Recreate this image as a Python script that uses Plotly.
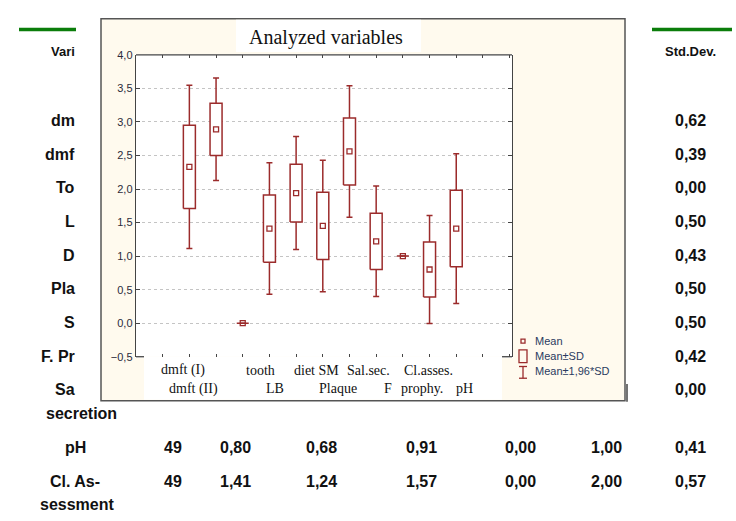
import plotly.graph_objects as go

W, H = 736, 521

# ---------------- data ----------------
categories = ["dmft (I)", "dmft (II)", "tooth", "LB", "diet SM", "Plaque",
              "Sal.sec.", "F", "Cl.asses.", "prophy.", "pH"]
means = [2.33, 2.89, 0.00, 1.41, 1.94, 1.45, 2.56, 1.22, 1.00, 0.80, 1.41]
std_devs = [0.62, 0.39, 0.00, 0.50, 0.43, 0.50, 0.50, 0.42, 0.00, 0.41, 0.57]

# background table (partly hidden by the chart)
table_row_fragments = ["dm", "dmf", "To", "L", "D", "Pla", "S", "F. Pr", "Sa"]
table_std_col = [0.62, 0.39, 0.00, 0.50, 0.43, 0.50, 0.50, 0.42, 0.00]
ph_row = [49, 0.80, 0.68, 0.91, 0.00, 1.00, 0.41]
cl_row = [49, 1.41, 1.24, 1.57, 0.00, 2.00, 0.57]

y_ticks = [-0.5, 0.0, 0.5, 1.0, 1.5, 2.0, 2.5, 3.0, 3.5, 4.0]

# ---------------- style ----------------
RED = "#9B2B2B"
CREAM = "#FFFAEE"
label_row = [0, 1, 0, 1, 0, 1, 0, 1, 0, 1, 1]
label_shift = [-6, -23, 18, 6, 20, 15, 19, 12, 26, -8, 8]
BOX_HALF = 0.225


def px(x):
    return x / W


def py(y):
    return 1 - y / H


def fmt(v):
    return f"{v:.2f}".replace(".", ",")


fig = go.Figure()

# whiskers (mean ± 1.96*SD)
fig.add_trace(go.Scatter(
    x=list(range(len(means))), y=means, mode="markers",
    marker=dict(size=1, color="rgba(0,0,0,0)"),
    error_y=dict(type="data", array=[1.96 * s for s in std_devs], visible=True,
                 color=RED, thickness=1.5, width=3),
    showlegend=False, hoverinfo="skip"))

# boxes (mean ± SD)
bx, by = [], []
for i, (m, s) in enumerate(zip(means, std_devs)):
    bx += [i - BOX_HALF, i + BOX_HALF, i + BOX_HALF, i - BOX_HALF, i - BOX_HALF, None]
    by += [m - s, m - s, m + s, m + s, m - s, None]
fig.add_trace(go.Scatter(x=bx, y=by, mode="lines", fill="toself", fillcolor="white",
                         line=dict(color=RED, width=1.5), showlegend=False,
                         hoverinfo="skip"))

# means
fig.add_trace(go.Scatter(x=list(range(len(means))), y=means, mode="markers",
                         marker=dict(symbol="square-open", size=5, color=RED,
                                     line=dict(width=1.3, color=RED)),
                         showlegend=False))

shapes = []
# green rules of the table
shapes.append(dict(type="line", xref="paper", yref="paper", x0=px(19), x1=px(76),
                   y0=py(24), y1=py(24), line=dict(color="#0b7d0b", width=3.5)))
shapes.append(dict(type="line", xref="paper", yref="paper", x0=px(652), x1=px(732),
                   y0=py(24), y1=py(24), line=dict(color="#0b7d0b", width=3.5)))
# chart panel
shapes.append(dict(type="rect", xref="paper", yref="paper", layer="below",
                   x0=px(101), x1=px(625), y0=py(404), y1=py(13),
                   fillcolor=CREAM, line=dict(color="#555555", width=1.5)))
shapes.append(dict(type="line", xref="paper", yref="paper",
                   x0=px(627), x1=px(627), y0=py(387), y1=py(405),
                   line=dict(color="#444444", width=1.5)))
# white areas
shapes.append(dict(type="rect", xref="paper", yref="paper", layer="below",
                   x0=px(236), x1=px(421), y0=py(47), y1=py(14),
                   fillcolor="white", line=dict(width=0)))
shapes.append(dict(type="rect", xref="paper", yref="paper", layer="below",
                   x0=px(136), x1=px(512), y0=py(359), y1=py(50),
                   fillcolor="white", line=dict(width=0)))
shapes.append(dict(type="rect", xref="paper", yref="paper", layer="below",
                   x0=px(144), x1=px(502), y0=py(403), y1=py(359),
                   fillcolor="white", line=dict(width=0)))
# plot frame top and the bottom corner stubs
shapes.append(dict(type="line", xref="x domain", yref="y domain", x0=0, x1=1, y0=1, y1=1,
                   line=dict(color="#444444", width=1.3)))
shapes.append(dict(type="line", xref="x domain", yref="y domain", x0=0, x1=8 / 376,
                   y0=0, y1=0, line=dict(color="#444444", width=1.3)))
shapes.append(dict(type="line", xref="x domain", yref="y domain", x0=366 / 376, x1=1,
                   y0=0, y1=0, line=dict(color="#444444", width=1.3)))
# legend symbols
shapes.append(dict(type="rect", xref="paper", yref="paper", x0=px(521), x1=px(525),
                   y0=py(345), y1=py(341), line=dict(color=RED, width=1.3)))
shapes.append(dict(type="rect", xref="paper", yref="paper", x0=px(519), x1=px(527),
                   y0=py(365), y1=py(352), line=dict(color=RED, width=1.3)))
shapes.append(dict(type="line", xref="paper", yref="paper", x0=px(523), x1=px(523),
                   y0=py(381), y1=py(369), line=dict(color=RED, width=1.3)))
for yy in (369, 381):
    shapes.append(dict(type="line", xref="paper", yref="paper", x0=px(519), x1=px(527),
                       y0=py(yy), y1=py(yy), line=dict(color=RED, width=1.3)))

ann = []
TAB_FONT = dict(family="Liberation Sans, Arial", size=16, color="#111111")
HDR_FONT = dict(family="Liberation Sans, Arial", size=13, color="#111111")
# table header
ann.append(dict(text="<b>Vari</b>", x=px(77), y=py(47), xanchor="right", yanchor="middle",
                font=HDR_FONT))
ann.append(dict(text="<b>Std.Dev.</b>", x=px(690), y=py(47), xanchor="center",
                yanchor="middle", font=HDR_FONT))
# table rows behind chart
for i, (lab, sd) in enumerate(zip(table_row_fragments, table_std_col)):
    yy = 117 + i * 34.5
    ann.append(dict(text=f"<b>{lab}</b>", x=px(77), y=py(yy), xanchor="right",
                    yanchor="middle", font=TAB_FONT))
    ann.append(dict(text=f"<b>{fmt(sd)}</b>", x=px(690), y=py(yy), xanchor="center",
                    yanchor="middle", font=TAB_FONT))
ann.append(dict(text="<b>secretion</b>", x=px(81), y=py(417), xanchor="center",
                yanchor="middle", font=TAB_FONT))
col_x = [173, 235, 321, 421, 520, 606, 690]
for lab, row, yy in (("pH", ph_row, 452), ("Cl. As-", cl_row, 487)):
    ann.append(dict(text=f"<b>{lab}</b>", x=px(75), y=py(yy), xanchor="center",
                    yanchor="middle", font=TAB_FONT))
    for cx, v in zip(col_x, row):
        t = str(v) if isinstance(v, int) else fmt(v)
        ann.append(dict(text=f"<b>{t}</b>", x=px(cx), y=py(yy), xanchor="center",
                        yanchor="middle", font=TAB_FONT))
ann.append(dict(text="<b>sessment</b>", x=px(77), y=py(510), xanchor="center",
                yanchor="middle", font=TAB_FONT))

# chart title
ann.append(dict(text="Analyzed variables", x=px(326), y=py(32), xanchor="center",
                yanchor="middle",
                font=dict(family="Liberation Serif, Times New Roman", size=20,
                          color="#111111")))
# category labels
for i, (c, r, sh) in enumerate(zip(categories, label_row, label_shift)):
    ann.append(dict(text=c, xref="x", yref="paper", x=i, y=py(373 if r == 0 else 392),
                    xshift=sh, xanchor="center", yanchor="middle", showarrow=False,
                    font=dict(family="Liberation Serif, Times New Roman", size=14,
                              color="#111111")))
# legend text
LEG_FONT = dict(family="Liberation Sans, Arial", size=11, color="#2a3a60")
for t, yy in (("Mean", 343), ("Mean±SD", 358), ("Mean±1,96*SD", 374)):
    ann.append(dict(text=t, x=px(533), y=py(yy), xanchor="left", yanchor="middle",
                    font=LEG_FONT))

for a in ann:
    a.setdefault("xref", "paper")
    a.setdefault("yref", "paper")
    a["showarrow"] = False

fig.update_layout(
    width=W, height=H, autosize=False,
    margin=dict(l=0, r=0, t=0, b=0, pad=0),
    paper_bgcolor="white", plot_bgcolor="rgba(0,0,0,0)",
    separators=",.",
    showlegend=False,
    shapes=shapes, annotations=ann,
    xaxis=dict(domain=[px(136), px(512)], range=[-2, 12.09], tickmode="linear",
               tick0=0, dtick=1, showticklabels=False, ticks="inside", ticklen=3,
               tickcolor="#444444", mirror="allticks", showline=True,
               linecolor="white", linewidth=1, showgrid=False, zeroline=False,
               fixedrange=True),
    yaxis=dict(domain=[py(359), py(50)], range=[-0.5, 4.0], tickmode="array",
               tickvals=y_ticks, tickformat=".1f", ticks="inside", ticklen=4,
               tickcolor="#444444", mirror="allticks", showline=True,
               linecolor="#444444", linewidth=1.3, showgrid=True,
               gridcolor="#c4c4c4", griddash="dot", gridwidth=1, zeroline=False,
               tickfont=dict(family="Liberation Sans, Arial", size=11, color="#2b2b3b"),
               fixedrange=True),
)

fig.write_html(
    "out.html",
    config={"displayModeBar": False, "staticPlot": True},
    post_script="document.body.style.margin='0';document.body.style.overflow='hidden';",
)
